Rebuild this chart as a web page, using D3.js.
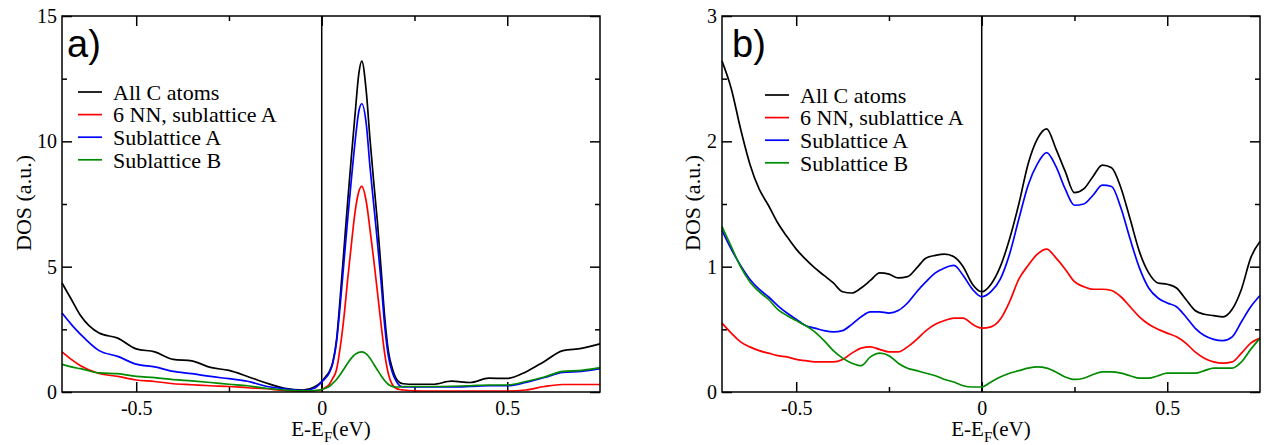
<!DOCTYPE html>
<html>
<head>
<meta charset="utf-8">
<script src="https://cdn.jsdelivr.net/npm/d3@7"></script>
<style>
  body { margin: 0; background: #fff; }
  svg text { font-family: "Liberation Serif", "Times New Roman", serif; fill: #000; }
</style>
</head>
<body>
<div id="chart"></div>
<script>
const WIDTH = 1276, HEIGHT = 445;
const margin = {top: 16};
let plot_width = 538, plot_height = 376;

// x grid and series of panel a
const energyA = [-0.70, -0.675, -0.65, -0.60, -0.55, -0.50, -0.45, -0.40, -0.35, -0.30, -0.25, -0.20, -0.15, -0.10, -0.05, -0.02,
    0.00, 0.01, 0.02, 0.03, 0.04, 0.05, 0.06, 0.07, 0.08, 0.09, 0.10,
    0.108,
    0.12, 0.13, 0.14, 0.15, 0.16, 0.17, 0.18, 0.19, 0.20, 0.21, 0.22,
    0.25, 0.30, 0.35, 0.40, 0.45, 0.50, 0.55, 0.60, 0.65, 0.70, 0.75];
const allA = [4.35, 3.7, 3.05, 2.35, 2.15, 1.72, 1.6, 1.3, 1.24, 0.98, 0.86, 0.62, 0.36, 0.15, 0.08, 0.2,
    0.42, 0.6, 0.8, 1.2, 2.1, 3.8, 5.7, 7.6, 9.4, 11.1, 12.7,
    13.2,
    12.0, 10.1, 8.4, 6.8, 4.9, 2.95, 1.6, 0.95, 0.55, 0.38, 0.33,
    0.31, 0.31, 0.43, 0.38, 0.55, 0.54, 0.8, 1.22, 1.65, 1.74, 1.92];
const nnA = [1.6, 1.3, 1.05, 0.74, 0.62, 0.48, 0.42, 0.33, 0.29, 0.25, 0.22, 0.17, 0.13, 0.06, 0.04, 0.05,
    0.1, 0.18, 0.3, 0.55, 0.9, 1.8, 3.0, 4.5, 5.9, 7.2, 8.0,
    8.2,
    7.6, 6.5, 5.3, 4.0, 2.7, 1.5, 0.7, 0.3, 0.15, 0.1, 0.08,
    0.05, 0.04, 0.04, 0.04, 0.04, 0.04, 0.08, 0.22, 0.3, 0.3, 0.3];
const subAA = [3.15, 2.7, 2.3, 1.65, 1.42, 1.11, 1.0, 0.82, 0.73, 0.62, 0.53, 0.43, 0.23, 0.13, 0.06, 0.15,
    0.4, 0.55, 0.75, 1.15, 2.0, 3.5, 5.2, 6.9, 8.5, 10.0, 11.2,
    11.5,
    10.7, 9.0, 7.5, 6.0, 4.4, 2.6, 1.4, 0.8, 0.45, 0.25, 0.2,
    0.2, 0.2, 0.2, 0.22, 0.25, 0.25, 0.38, 0.58, 0.78, 0.82, 0.93];
const subBA = [1.1, 1.0, 0.93, 0.76, 0.73, 0.62, 0.57, 0.49, 0.44, 0.38, 0.31, 0.25, 0.15, 0.08, 0.05, 0.06,
    0.1, 0.15, 0.22, 0.35, 0.5, 0.7, 0.92, 1.15, 1.35, 1.5, 1.58,
    1.6,
    1.52, 1.35, 1.12, 0.88, 0.65, 0.45, 0.3, 0.22, 0.2, 0.2, 0.22,
    0.22, 0.22, 0.23, 0.25, 0.28, 0.28, 0.42, 0.6, 0.82, 0.86, 0.97];

// x grid and series of panel b
const energyB = [-0.700, -0.675, -0.650, -0.625, -0.600, -0.575, -0.550, -0.525, -0.500,
    -0.475, -0.450, -0.425, -0.400, -0.375, -0.350, -0.325, -0.300, -0.275,
    -0.250, -0.225, -0.200, -0.175, -0.150, -0.125, -0.100, -0.075, -0.050,
    -0.025, 0.000, 0.025, 0.050, 0.075, 0.100, 0.125, 0.150, 0.175,
    0.200, 0.225, 0.250, 0.275, 0.300, 0.325, 0.350, 0.375, 0.400,
    0.425, 0.450, 0.475, 0.500, 0.525, 0.550, 0.575, 0.600, 0.625,
    0.650, 0.675, 0.700, 0.725, 0.750];
const allB = [2.64, 2.42, 2.10, 1.82, 1.62, 1.49, 1.35, 1.24, 1.14,
    1.06, 0.99, 0.93, 0.87, 0.80, 0.79, 0.83, 0.89, 0.95,
    0.94, 0.91, 0.92, 0.99, 1.07, 1.09, 1.10, 1.08, 1.00,
    0.86, 0.80, 0.86, 1.00, 1.22, 1.50, 1.82, 2.02, 2.10,
    1.94, 1.76, 1.59, 1.62, 1.72, 1.81, 1.79, 1.63, 1.38,
    1.12, 0.95, 0.87, 0.86, 0.83, 0.74, 0.65, 0.62, 0.61,
    0.60, 0.66, 0.82, 1.07, 1.20];
const nnB = [0.55, 0.47, 0.40, 0.36, 0.33, 0.31, 0.29, 0.28, 0.26,
    0.25, 0.24, 0.24, 0.24, 0.26, 0.31, 0.35, 0.36, 0.34,
    0.32, 0.32, 0.36, 0.42, 0.49, 0.54, 0.57, 0.59, 0.59,
    0.54, 0.51, 0.52, 0.58, 0.72, 0.90, 1.01, 1.10, 1.14,
    1.07, 0.98, 0.88, 0.84, 0.82, 0.82, 0.81, 0.76, 0.68,
    0.60, 0.54, 0.50, 0.47, 0.44, 0.39, 0.32, 0.27, 0.24,
    0.23, 0.24, 0.31, 0.39, 0.43];
const subAB = [1.29, 1.14, 1.01, 0.90, 0.82, 0.76, 0.69, 0.63, 0.58,
    0.53, 0.51, 0.49, 0.48, 0.49, 0.54, 0.60, 0.64, 0.64,
    0.63, 0.65, 0.71, 0.80, 0.88, 0.95, 0.99, 1.01, 0.93,
    0.82, 0.76, 0.80, 0.90, 1.10, 1.38, 1.65, 1.82, 1.91,
    1.80, 1.62, 1.49, 1.50, 1.57, 1.65, 1.64, 1.47, 1.22,
    0.99, 0.83, 0.75, 0.71, 0.68, 0.60, 0.51, 0.45, 0.42,
    0.41, 0.44, 0.56, 0.68, 0.77];
const subBB = [1.32, 1.16, 1.00, 0.88, 0.80, 0.74, 0.66, 0.61, 0.57,
    0.53, 0.48, 0.41, 0.33, 0.27, 0.23, 0.21, 0.28, 0.31,
    0.29, 0.23, 0.19, 0.17, 0.15, 0.13, 0.10, 0.08, 0.05,
    0.04, 0.04, 0.08, 0.12, 0.15, 0.17, 0.19, 0.20, 0.19,
    0.16, 0.12, 0.10, 0.11, 0.14, 0.16, 0.16, 0.15, 0.13,
    0.11, 0.11, 0.13, 0.15, 0.15, 0.15, 0.15, 0.17, 0.19,
    0.19, 0.19, 0.24, 0.34, 0.43];

const seriesNames = ["All C atoms", "6 NN, sublattice A", "Sublattice A", "Sublattice B"];
const seriesColors = ["#000000", "#ff0000", "#0000ff", "#008b00"];

const xDomain = [-0.7, 0.75];
const xTicks = [-0.5, 0, 0.5];
const xMinorTicks = [-0.25, 0.25];
const yTicksA = [0, 5, 10, 15], yMinorA = [2.5, 7.5, 12.5];
const yTicksB = [0, 1, 2, 3], yMinorB = [0.5, 1.5, 2.5];

const SERIF = "'Liberation Serif', 'Times New Roman', serif";

let svg = d3.select("#chart")
    .append("svg")
    .attr("width", WIDTH)
    .attr("height", HEIGHT)
    .attr("font-family", SERIF);

/**
 * Draws one DOS panel with its axes, legend and label
 */
function drawPanel(p) {
    let g = svg.append("g")
        .attr("transform", `translate(${p.left}, ${margin.top})`);

    let x = d3.scaleLinear().domain(xDomain).range([0, plot_width]);
    let y = d3.scaleLinear().domain([0, p.yTicks[p.yTicks.length - 1]]).range([plot_height, 0]);

    let noDomain = sel => sel.select(".domain").remove();
    let styleTicks = sel => sel.selectAll("line").attr("stroke", "#000").attr("stroke-width", 1.5);
    let styleLabels = sel => sel.attr("font-family", SERIF).attr("font-size", 20)
        .selectAll("text").attr("fill", "#000");

    // major + minor ticks, all pointing inward
    g.append("g").attr("transform", `translate(0, ${plot_height})`)
        .call(d3.axisBottom(x).tickValues(xTicks).tickSizeInner(-10).tickSizeOuter(0).tickPadding(9)
            .tickFormat(d => d))
        .call(noDomain).call(styleTicks).call(styleLabels);
    g.append("g").attr("transform", `translate(0, ${plot_height})`)
        .call(d3.axisBottom(x).tickValues(xMinorTicks).tickSize(-5).tickFormat(""))
        .call(noDomain).call(styleTicks);
    g.append("g")
        .call(d3.axisTop(x).tickValues(xTicks).tickSize(-10).tickFormat(""))
        .call(noDomain).call(styleTicks);
    g.append("g")
        .call(d3.axisTop(x).tickValues(xMinorTicks).tickSize(-5).tickFormat(""))
        .call(noDomain).call(styleTicks);

    g.append("g")
        .call(d3.axisLeft(y).tickValues(p.yTicks).tickSizeInner(-10).tickSizeOuter(0).tickPadding(5)
            .tickFormat(d => d))
        .call(noDomain).call(styleTicks).call(styleLabels);
    g.append("g")
        .call(d3.axisLeft(y).tickValues(p.yMinor).tickSize(-5).tickFormat(""))
        .call(noDomain).call(styleTicks);
    g.append("g").attr("transform", `translate(${plot_width}, 0)`)
        .call(d3.axisRight(y).tickValues(p.yTicks).tickSize(-10).tickFormat(""))
        .call(noDomain).call(styleTicks);
    g.append("g").attr("transform", `translate(${plot_width}, 0)`)
        .call(d3.axisRight(y).tickValues(p.yMinor).tickSize(-5).tickFormat(""))
        .call(noDomain).call(styleTicks);

    // Fermi level
    g.append("line")
        .attr("x1", x(0)).attr("x2", x(0))
        .attr("y1", 0).attr("y2", plot_height)
        .attr("stroke", "#000")
        .attr("stroke-width", 1.5);

    let line = d3.line()
        .x((d, i) => x(p.energy[i]))
        .y(d => y(d))
        .curve(d3.curveMonotoneX);

    p.series.forEach(function (s, i) {
        g.append("path")
            .datum(s)
            .attr("fill", "none")
            .attr("stroke", seriesColors[i])
            .attr("stroke-width", 1.7)
            .attr("stroke-linejoin", "round")
            .attr("d", line);
    });

    // frame
    g.append("rect")
        .attr("width", plot_width)
        .attr("height", plot_height)
        .attr("fill", "none")
        .attr("stroke", "#000")
        .attr("stroke-width", 1.5);

    // legend
    seriesNames.forEach(function (name, i) {
        let ly = p.legendY + i * 22.6;
        g.append("line")
            .attr("x1", p.legendX).attr("x2", p.legendX + 24)
            .attr("y1", ly).attr("y2", ly)
            .attr("stroke", seriesColors[i])
            .attr("stroke-width", 1.7);
        g.append("text")
            .attr("x", p.legendX + 35)
            .attr("y", ly)
            .attr("dy", "0.35em")
            .attr("font-size", 22)
            .text(name);
    });

    // panel label
    g.append("text")
        .attr("x", p.labelX)
        .attr("y", 41)
        .style("font-family", "'Liberation Sans', Arial, sans-serif")
        .attr("font-size", 38)
        .text(p.label);

    // axis titles
    let xt = g.append("text")
        .attr("x", plot_width / 2)
        .attr("y", 420)
        .attr("text-anchor", "middle")
        .attr("font-size", 21);
    xt.append("tspan").text("E-E");
    xt.append("tspan").attr("dy", 6).attr("font-size", 15).text("F");
    xt.append("tspan").attr("dy", -6).text("(eV)");

    g.append("text")
        .attr("transform", `translate(${p.yTitleX}, ${plot_height / 2 - 1}) rotate(-90)`)
        .attr("text-anchor", "middle")
        .attr("font-size", 22)
        .text("DOS (a.u.)");
}

drawPanel({
    left: 62, label: "a)", labelX: 5, energy: energyA,
    series: [allA, nnA, subAA, subBA],
    yTicks: yTicksA, yMinor: yMinorA,
    legendX: 16, legendY: 76, yTitleX: -31
});

drawPanel({
    left: 722, label: "b)", labelX: 10, energy: energyB,
    series: [allB, nnB, subAB, subBB],
    yTicks: yTicksB, yMinor: yMinorB,
    legendX: 43, legendY: 79, yTitleX: -22
});
</script>
</body>
</html>
